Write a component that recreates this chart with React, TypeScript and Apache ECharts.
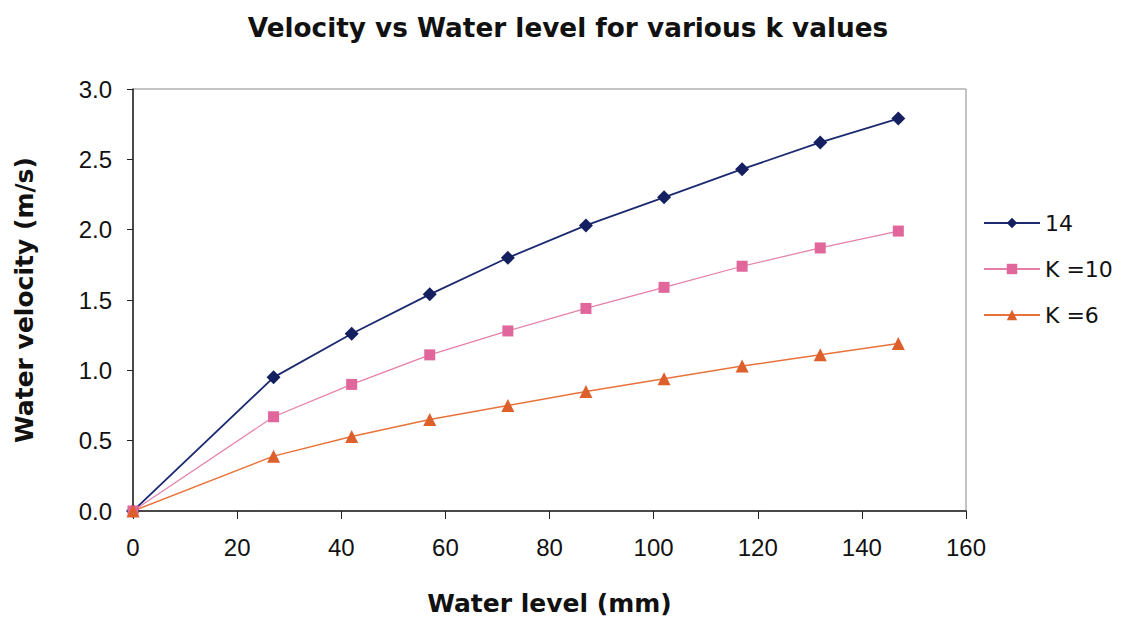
import React, { useEffect, useRef } from "react";
import * as echarts from "echarts";

// Water level (mm) at each measurement point
const waterLevel = [0, 27, 42, 57, 72, 87, 102, 117, 132, 147];

// Water velocity (m/s) for each k value
const velocityK14 = [0, 0.95, 1.26, 1.54, 1.80, 2.03, 2.23, 2.43, 2.62, 2.79];
const velocityK10 = [0, 0.67, 0.90, 1.11, 1.28, 1.44, 1.59, 1.74, 1.87, 1.99];
const velocityK6 = [0, 0.39, 0.53, 0.65, 0.75, 0.85, 0.94, 1.03, 1.11, 1.19];

const seriesNames = ["14", "K =10", "K =6"];

const SANS = "'Liberation Sans', Arial, sans-serif";
const WIDE = "'DejaVu Sans', Verdana, sans-serif";

const pairs = (ys: number[]) => waterLevel.map((x, i) => [x, ys[i]]);

export default function App() {
  const ref = useRef<HTMLDivElement>(null);

  useEffect(() => {
    document.body.style.margin = "0";
    if (!ref.current) return;
    const chart = echarts.init(ref.current, undefined, { renderer: "svg" });
    chart.setOption({
      animation: false,
      backgroundColor: "#ffffff",
      title: {
        text: "Velocity vs Water level for various k values",
        left: 563,
        top: 10,
        textAlign: "center",
        textStyle: { fontFamily: WIDE, fontWeight: "bold", fontSize: 26.3, color: "#111" },
      },
      legend: {
        orient: "vertical",
        left: 978,
        top: 207,
        itemWidth: 56,
        itemHeight: 13,
        itemGap: 24,
        textStyle: { fontFamily: WIDE, fontSize: 22, color: "#111" },
        data: seriesNames,
      },
      grid: {
        left: 133,
        top: 89,
        right: 162,
        bottom: 110,
        show: true,
        borderColor: "#888",
        borderWidth: 1,
      },
      xAxis: {
        type: "value",
        min: 0,
        max: 160,
        interval: 20,
        name: "Water level (mm)",
        nameLocation: "middle",
        nameGap: 80,
        nameTextStyle: { fontFamily: WIDE, fontWeight: "bold", fontSize: 25, color: "#111" },
        axisLine: { lineStyle: { color: "#222", width: 1.5 } },
        axisTick: { show: true, length: 8, lineStyle: { color: "#222" } },
        axisLabel: { fontFamily: SANS, fontSize: 24, color: "#111", margin: 24 },
        splitLine: { show: false },
      },
      yAxis: {
        type: "value",
        min: 0,
        max: 3,
        interval: 0.5,
        name: "Water velocity (m/s)",
        nameLocation: "middle",
        nameGap: 96,
        nameTextStyle: { fontFamily: WIDE, fontWeight: "bold", fontSize: 25, color: "#111" },
        axisLine: { show: true, lineStyle: { color: "#222", width: 1.5 } },
        axisTick: { show: true, length: 6, lineStyle: { color: "#222" } },
        axisLabel: {
          fontFamily: SANS,
          fontSize: 24,
          color: "#111",
          margin: 21,
          formatter: (v: number) => v.toFixed(1),
        },
        splitLine: { show: false },
      },
      series: [
        {
          name: seriesNames[0],
          type: "line",
          data: pairs(velocityK14),
          symbol: "diamond",
          symbolSize: 14,
          lineStyle: { color: "#1c2a70", width: 1.8 },
          itemStyle: { color: "#142060" },
        },
        {
          name: seriesNames[1],
          type: "line",
          data: pairs(velocityK10),
          symbol: "rect",
          symbolSize: 11,
          lineStyle: { color: "#e57fa8", width: 1.2 },
          itemStyle: { color: "#e0669c" },
        },
        {
          name: seriesNames[2],
          type: "line",
          data: pairs(velocityK6),
          symbol: "triangle",
          symbolSize: 13,
          lineStyle: { color: "#e8733a", width: 1.5 },
          itemStyle: { color: "#dd5f2c" },
        },
      ],
    });
    return () => chart.dispose();
  }, []);

  return <div ref={ref} style={{ width: 1128, height: 621 }} />;
}
